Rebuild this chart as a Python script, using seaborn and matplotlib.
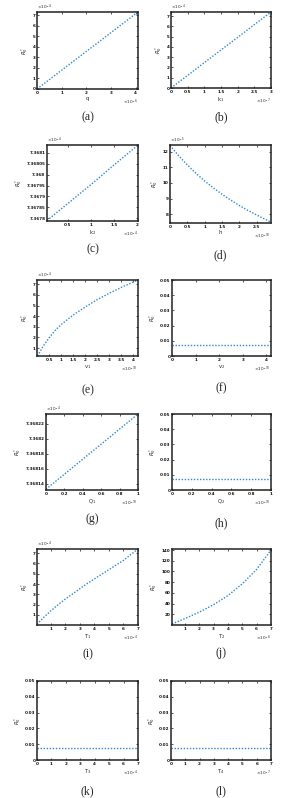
import numpy as np
import pandas as pd
import matplotlib
matplotlib.use("Agg")
import matplotlib.pyplot as plt
import seaborn as sns

# ---------------- data ----------------
q_x = [0.0, 1.0, 2.0, 3.0, 4.1]
q_y = [0.0, 1.78, 3.56, 5.34, 7.30]

k1_x = [0.0, 0.5, 1.0, 1.5, 2.0, 2.5, 3.0]
k1_y = [0.0, 1.23, 2.47, 3.70, 4.93, 6.17, 7.40]

k2_x = [0.05, 0.5, 1.0, 1.5, 2.0]
k2_y = [7.367790, 7.367868, 7.367955, 7.368045, 7.368133]

h_x = [0.0, 0.25, 0.5, 0.75, 1.0, 1.25, 1.5, 1.75, 2.0, 2.25, 2.5, 2.75, 2.9]
h_y = [12.40, 11.74, 11.15, 10.61, 10.12, 9.68, 9.27, 8.90, 8.55, 8.23, 7.94, 7.66, 7.50]

v1_x = [0.02, 0.25, 0.5, 0.75, 1.0, 1.5, 2.0, 2.5, 3.0, 3.5, 4.0, 4.2]
v1_y = [0.25, 1.15, 1.95, 2.65, 3.20, 4.10, 4.85, 5.55, 6.15, 6.70, 7.20, 7.40]

v2_x = [0.0, 4.2]
v2_y = [0.0074, 0.0074]

Q1_x = [0.0, 0.2, 0.4, 0.6, 0.8, 1.0]
Q1_y = [7.368133, 7.368153, 7.368173, 7.368193, 7.368213, 7.368233]

Q2_x = [0.0, 1.0]
Q2_y = [0.0074, 0.0074]

T1_x = [0.05, 0.5, 1.0, 1.5, 2.0, 2.5, 3.0, 3.5, 4.0, 4.5, 5.0, 5.5, 6.0, 6.5, 7.0]
T1_y = [0.10, 0.75, 1.40, 2.00, 2.55, 3.05, 3.55, 4.05, 4.50, 4.95, 5.40, 5.85, 6.30, 6.85, 7.40]

T2_x = [0.1, 1.0, 2.0, 3.0, 4.0, 5.0, 6.0, 7.0]
T2_y = [2.0, 12.0, 24.0, 38.0, 55.0, 77.0, 104.0, 140.0]

T3_x = [0.0, 7.0]
T3_y = [0.0074, 0.0074]

T4_x = [0.0, 7.0]
T4_y = [0.0074, 0.0074]

# ---------------- figure ----------------
sns.set_theme(style="ticks")
plt.rcParams["font.family"] = ["DejaVu Sans"]
W, H = 302, 798
fig = plt.figure(figsize=(W / 100, H / 100), dpi=100)
fig.patch.set_facecolor("white")

LINE_COLOR = "#2f86d6"
TICK_FS = 3.0
LAB_FS = 3.8
CAP_FS = 8.5


def rect(l, t, r, b):
    return [l / W, 1 - b / H, (r - l) / W, (b - t) / H]


panels = [
    dict(x=q_x, y=q_y, xl="q", xlim=(0, 4.1), ylim=(0, 7.3),
         xt=[0, 1, 2, 3, 4], yt=[0, 1, 2, 3, 4, 5, 6, 7], xe="-6", ye="-4",
         box=(37, 12, 138, 89), cap="(a)", cy=117),
    dict(x=k1_x, y=k1_y, xl="k$_1$", xlim=(0, 3), ylim=(0, 7.4),
         xt=[0, 0.5, 1, 1.5, 2, 2.5, 3], yt=[0, 1, 2, 3, 4, 5, 6, 7], xe="-7", ye="-4",
         box=(171, 12, 271, 88), cap="(b)", cy=117),
    dict(x=k2_x, y=k2_y, xl="k$_2$", xlim=(0.05, 2.01), ylim=(7.367788, 7.368135),
         xt=[0.5, 1, 1.5, 2],
         yt=[7.3678, 7.36785, 7.3679, 7.36795, 7.368, 7.36805, 7.3681],
         ytl=["7.3678", "7.36785", "7.3679", "7.36795", "7.368", "7.36805", "7.3681"],
         xe="-4", ye="-4", box=(47, 145, 138, 221), cap="(c)", cy=249),
    dict(x=h_x, y=h_y, xl="h", xlim=(0, 2.91), ylim=(7.43, 12.43),
         xt=[0, 0.5, 1, 1.5, 2, 2.5], yt=[8, 9, 10, 11, 12], xe="-10", ye="-5",
         box=(170, 145, 271, 223), cap="(d)", cy=255),
    dict(x=v1_x, y=v1_y, xl="v$_1$", xlim=(0.0, 4.2), ylim=(0.25, 7.4),
         xt=[0.5, 1, 1.5, 2, 2.5, 3, 3.5, 4], yt=[1, 2, 3, 4, 5, 6, 7], xe="-10", ye="-4",
         box=(37, 280, 138, 356), cap="(e)", cy=390),
    dict(x=v2_x, y=v2_y, xl="v$_2$", xlim=(0, 4.2), ylim=(0, 0.05),
         xt=[0, 1, 2, 3, 4], yt=[0, 0.01, 0.02, 0.03, 0.04, 0.05],
         ytl=["0", "0.01", "0.02", "0.03", "0.04", "0.05"], xe="-10", ye=None,
         box=(172, 280, 271, 356), cap="(f)", cy=388),
    dict(x=Q1_x, y=Q1_y, xl="Q$_1$", xlim=(0, 1), ylim=(7.368132, 7.368233),
         xt=[0, 0.2, 0.4, 0.6, 0.8, 1],
         yt=[7.36814, 7.36816, 7.36818, 7.3682, 7.36822],
         ytl=["7.36814", "7.36816", "7.36818", "7.3682", "7.36822"],
         xe="-10", ye="-4", box=(46, 414, 138, 490), cap="(g)", cy=519),
    dict(x=Q2_x, y=Q2_y, xl="Q$_2$", xlim=(0, 1), ylim=(0, 0.05),
         xt=[0, 0.2, 0.4, 0.6, 0.8, 1], yt=[0, 0.01, 0.02, 0.03, 0.04, 0.05],
         ytl=["0", "0.01", "0.02", "0.03", "0.04", "0.05"], xe="-10", ye=None,
         box=(172, 414, 271, 490), cap="(h)", cy=523),
    dict(x=T1_x, y=T1_y, xl="T$_1$", xlim=(0.05, 7), ylim=(0.03, 7.4),
         xt=[1, 2, 3, 4, 5, 6, 7], yt=[1, 2, 3, 4, 5, 6, 7], xe="-4", ye="-4",
         box=(37, 549, 138, 625), cap="(i)", cy=654),
    dict(x=T2_x, y=T2_y, xl="T$_2$", xlim=(0.1, 7), ylim=(0, 142),
         xt=[1, 2, 3, 4, 5, 6, 7], yt=[20, 40, 60, 80, 100, 120, 140], xe="-6", ye=None,
         box=(172, 549, 271, 625), cap="(j)", cy=653),
    dict(x=T3_x, y=T3_y, xl="T$_3$", xlim=(0, 7), ylim=(0, 0.05),
         xt=[0, 1, 2, 3, 4, 5, 6, 7], yt=[0, 0.01, 0.02, 0.03, 0.04, 0.05],
         ytl=["0", "0.01", "0.02", "0.03", "0.04", "0.05"], xe="-4", ye=None,
         box=(37, 681, 138, 760), cap="(k)", cy=791),
    dict(x=T4_x, y=T4_y, xl="T$_4$", xlim=(0, 7), ylim=(0, 0.05),
         xt=[0, 1, 2, 3, 4, 5, 6, 7], yt=[0, 0.01, 0.02, 0.03, 0.04, 0.05],
         ytl=["0", "0.01", "0.02", "0.03", "0.04", "0.05"], xe="-7", ye=None,
         box=(171, 681, 271, 760), cap="(l)", cy=791),
]

for p in panels:
    l, t, r, b = p["box"]
    ax = fig.add_axes(rect(l, t, r, b))
    df = pd.DataFrame({"x": p["x"], "y": p["y"]})
    sns.lineplot(data=df, x="x", y="y", ax=ax, color=LINE_COLOR,
                 linewidth=1.0, linestyle=(0, (1.0, 1.2)), legend=False)
    ax.set_xlim(*p["xlim"])
    ax.set_ylim(*p["ylim"])
    ax.set_xticks(p["xt"])
    ax.set_xticklabels([("%g" % v) for v in p["xt"]])
    ax.set_yticks(p["yt"])
    if "ytl" in p:
        ax.set_yticklabels(p["ytl"])
    else:
        ax.set_yticklabels([("%g" % v) for v in p["yt"]])
    ax.tick_params(direction="in", length=1.6, width=0.5, labelsize=TICK_FS,
                   top=True, right=True, pad=1.2, colors="#111111")
    for lab in ax.get_xticklabels() + ax.get_yticklabels():
        lab.set_fontweight("bold")
    for s in ax.spines.values():
        s.set_linewidth(1.1)
        s.set_color("#222222")
    ax.set_xlabel(p["xl"], fontsize=LAB_FS, labelpad=0.8)
    ax.set_ylabel("$R_0^*$", fontsize=LAB_FS, labelpad=1.5)
    if p["xe"]:
        ax.text(1.0, -0.11, r"$\times10^{%s}$" % p["xe"], transform=ax.transAxes,
                fontsize=TICK_FS, ha="right", va="top")
    if p["ye"]:
        ax.text(0.0, 1.0, r"$\times10^{%s}$" % p["ye"], transform=ax.transAxes,
                fontsize=TICK_FS, ha="left", va="bottom")
    cx = (l + r) / 2 / W
    fig.text(cx, 1 - p["cy"] / H, p["cap"], fontsize=CAP_FS, ha="center", va="center",
             family=["Liberation Serif", "DejaVu Serif"])

fig.savefig("out.png", dpi=100, facecolor="white")
